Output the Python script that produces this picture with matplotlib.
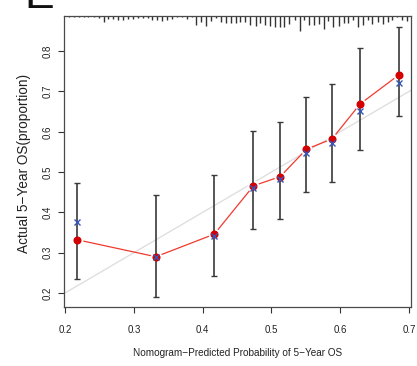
import matplotlib
matplotlib.use("Agg")
import matplotlib.pyplot as plt

plt.rcParams['font.family'] = ['Liberation Sans', 'DejaVu Sans']

# Calibration groups: mean predicted vs observed 5-year OS
pred = [0.218, 0.332, 0.417, 0.474, 0.513, 0.551, 0.588, 0.629, 0.686]
observed = [0.332, 0.290, 0.346, 0.466, 0.489, 0.557, 0.582, 0.669, 0.742]
corrected = [0.377, 0.290, 0.342, 0.460, 0.484, 0.548, 0.573, 0.652, 0.722]
ci_low = [0.234, 0.189, 0.243, 0.358, 0.383, 0.451, 0.476, 0.555, 0.640]
ci_high = [0.472, 0.443, 0.492, 0.603, 0.624, 0.686, 0.718, 0.807, 0.861]

# Distribution of predicted probabilities (top rug)
rug_x = [0.206, 0.213, 0.220, 0.227, 0.234, 0.242, 0.249, 0.256, 0.263, 0.270,
         0.277, 0.284, 0.291, 0.299, 0.306, 0.313, 0.320, 0.327, 0.334, 0.341,
         0.348, 0.355, 0.363, 0.370, 0.377, 0.384, 0.391, 0.398, 0.405, 0.412,
         0.420, 0.427, 0.434, 0.441, 0.448, 0.455, 0.462, 0.469, 0.477, 0.484,
         0.491, 0.498, 0.505, 0.512, 0.519, 0.526, 0.534, 0.541, 0.548, 0.555,
         0.562, 0.569, 0.576, 0.583, 0.590, 0.598, 0.605, 0.612, 0.619, 0.626,
         0.633, 0.640, 0.647, 0.655, 0.662, 0.669, 0.676, 0.683, 0.690, 0.697,
         0.704]
rug_freq = [0.7, 0.7, 0.7, 0.7, 1, 1, 2.3, 5.7, 3.3, 3.3, 4, 4, 3.3, 3.3, 2.3, 2.3, 2.3,
            4, 4, 4.7, 4, 3.3, 0.7, 1.3, 3.3, 1.3, 9, 5.7, 10, 4.7, 2.3, 5.7, 6.7, 7.3, 7.3,
            5.7, 5.7, 9, 10, 7.3, 9, 10, 10.7, 11, 11, 7.7, 4.3, 15, 4.3, 9.3, 9.3, 7.7, 12.7,
            5.3, 11, 10, 7, 6.7, 4, 10.7, 9, 4, 8, 5.7, 8, 5.7, 4, 1.3, 4, 4.7, 7]

xticks = [0.2, 0.3, 0.4, 0.5, 0.6, 0.7]
yticks = [0.2, 0.3, 0.4, 0.5, 0.6, 0.7, 0.8]

W, H = 417, 366
fig = plt.figure(figsize=(W / 100, H / 100), dpi=100)
ax = fig.add_axes([64 / W, 1 - 307 / H, 347 / W, 291 / H])
ax.set_xlim(0.1985, 0.703)
ax.set_ylim(0.1653, 0.8873)

# ideal line
ax.plot([0, 1], [0, 1], color='#dcdcdc', lw=0.9, zorder=1)

# observed line with small gaps around the points
ax.plot(pred, observed, color='#f03a2e', lw=0.9, zorder=2)
ax.plot(pred, observed, ls='none', marker='o', ms=8.5, mfc='white', mec='none', zorder=3)

ax.errorbar(pred, observed, yerr=[[o - l for o, l in zip(observed, ci_low)],
                                  [h - o for o, h in zip(observed, ci_high)]],
            fmt='none', ecolor='#3a3a3a', elinewidth=1.2, capsize=2.4, capthick=1.0, zorder=4)

ax.plot(pred, observed, ls='none', marker='o', ms=4.8, color='#d40000', zorder=5)
ax.plot(pred, corrected, ls='none', marker='x', ms=4.4, mew=1.0, color='#3656b8', zorder=6)

# rug along the top
max_len = 15 / 291
top = max(rug_freq)
ax.vlines(rug_x, [1 - f / top * max_len for f in rug_freq], 1,
          transform=ax.get_xaxis_transform(), color='#333333', lw=1.0, zorder=2)

for s in ax.spines.values():
    s.set_color('#4a4a4a')
    s.set_linewidth(0.9)

ax.set_xticks(xticks)
ax.set_yticks(yticks)
ax.set_xticklabels([f'{v:.1f}' for v in xticks])
ax.set_yticklabels([f'{v:.1f}' for v in yticks], rotation=90, va='center')
ax.tick_params(direction='out', length=4.3, width=0.8, color='#333333',
               labelsize=7, labelcolor='#222222')
ax.tick_params(axis='x', pad=9)
ax.tick_params(axis='y', pad=4)

fig.text(237.5 / W, 1 - 353 / H, 'Nomogram\u2212Predicted Probability of 5\u2212Year OS',
         ha='center', va='center', fontsize=7.2, color='#222222')
fig.text(24 / W, 1 - 163 / H, 'Actual 5\u2212Year OS(proportion)',
         ha='center', va='center', rotation=90, fontsize=9.8, color='#222222')

# panel letter, mostly above the canvas
fig.text(24.5 / W, 1 - 8 / H, 'E', ha='left', va='baseline', fontsize=32, color='#111111')

fig.savefig('out.png', dpi=100)
